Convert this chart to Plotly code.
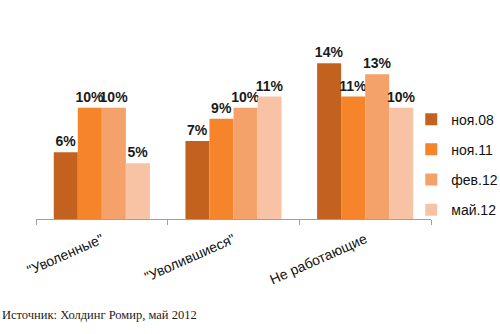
import plotly.graph_objects as go

categories = ['"Уволенные"', '"Уволившиеся"', 'Не работающие']
series_names = ["ноя.08", "ноя.11", "фев.12", "май.12"]
v_nov08 = [6, 7, 14]
v_nov11 = [10, 9, 11]
v_feb12 = [10, 10, 13]
v_may12 = [5, 11, 10]
colors = ["#c2621e", "#f5842a", "#f4a26a", "#f8c3a4"]

values = [v_nov08, v_nov11, v_feb12, v_may12]

fig = go.Figure()
for i, (name, vals) in enumerate(zip(series_names, values)):
    fig.add_trace(go.Bar(
        x=categories, y=vals, name=name,
        marker=dict(color=colors[i], line=dict(width=0)),
        text=[f"{v}%" for v in vals],
        textposition="outside",
        constraintext="none",
        cliponaxis=False,
        textfont=dict(family="Liberation Sans, Arial", size=14, color="#1a1a1a", weight="bold"),
        legendgroup=name,
    ))

fig.update_layout(
    width=500, height=334,
    margin=dict(l=36, r=69, t=52, b=115, autoexpand=False),
    paper_bgcolor="white", plot_bgcolor="white",
    barmode="group", bargap=0.27, bargroupgap=0,
    font=dict(family="Liberation Sans, Arial", size=14, color="#111"),
    showlegend=True,
    legend=dict(x=0.95, y=0.326, xanchor="left", yanchor="middle",
                font=dict(size=14, color="#111"),
                traceorder="grouped", tracegroupgap=9,
                itemwidth=30, bgcolor="rgba(0,0,0,0)"),
    xaxis=dict(showline=True, linecolor="#a0a0a0", linewidth=1,
               ticks="outside", tickson="boundaries", ticklen=5, tickcolor="#a0a0a0",
               tickangle=-24, tickfont=dict(size=14, color="#111"),
               ticklabelstandoff=6),
    yaxis=dict(range=[0, 15], visible=False, showgrid=False),
)

fig.add_annotation(text="Источник: Холдинг Ромир, май 2012", xref="paper", yref="paper",
                   x=-36/395, y=-96/167, xanchor="left", yanchor="middle", showarrow=False,
                   font=dict(family="Liberation Serif, Times New Roman", size=12.5, color="#222"))

fig.write_html("out.html")
